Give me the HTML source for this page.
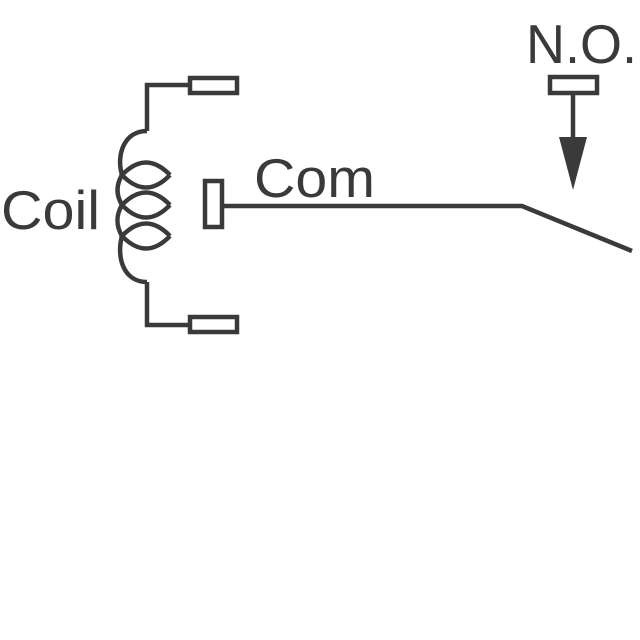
<!DOCTYPE html>
<html><head><meta charset="utf-8"><style>
html,body{margin:0;padding:0;background:#fff;}
svg{display:block;}
text{font-family:"Liberation Sans",Arial,sans-serif;fill:#3a3a3a;}
</style></head><body>
<svg width="640" height="640" viewBox="0 0 640 640" xmlns="http://www.w3.org/2000/svg">
<g fill="none" stroke="#3a3a3a" stroke-width="4.5">
<rect x="190" y="78" width="47" height="15"/>
<rect x="190" y="317" width="47" height="15"/>
<polyline points="190,85 147,85 147,131"/>
<polyline points="190,325 147,325 147,282"/>
<path d="M147,131 C124,131 116,155 122,175 C116,185 116,195 122,205 C116,215 116,226 122,236 C116,258 124,282 147,282"/>
<path d="M170,175 Q146,150 122,175 Q146,200 170,175"/>
<path d="M170,205 Q146,180 122,205 Q146,230 170,205"/>
<path d="M170,236 Q146,211 122,236 Q146,261 170,236"/>
<rect x="205" y="181" width="17" height="46"/>
<polyline points="222,206 522,206 632,251"/>
<rect x="550" y="77" width="47" height="16"/>
<line x1="573" y1="93" x2="573" y2="140"/>
</g>
<polygon points="559,137 587,137 573,190" fill="#3a3a3a"/>
<text x="1" y="229" font-size="55" textLength="99" lengthAdjust="spacingAndGlyphs">Coil</text>
<text x="254" y="197" font-size="55" textLength="121" lengthAdjust="spacingAndGlyphs">Com</text>
<text x="526" y="63" font-size="55" textLength="111" lengthAdjust="spacingAndGlyphs">N.O.</text>
</svg>
</body></html>
